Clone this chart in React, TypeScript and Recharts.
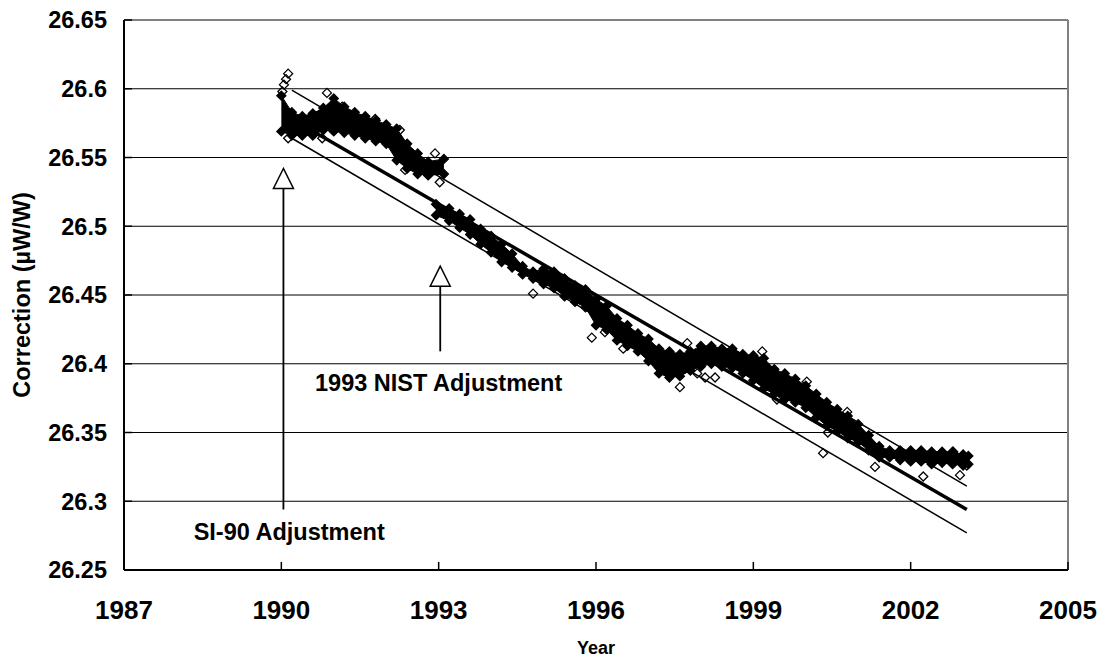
import React from "react"
import {
  ComposedChart,
  XAxis,
  YAxis,
  Area,
  Line,
  Scatter,
  ReferenceLine,
  ReferenceDot,
} from "recharts"

const font = "'Liberation Sans', Arial, sans-serif"

const yearTicks = [1987, 1990, 1993, 1996, 1999, 2002, 2005]
const correctionTicks = [26.25, 26.3, 26.35, 26.4, 26.45, 26.5, 26.55, 26.6, 26.65]
const gridValues = [26.3, 26.35, 26.4, 26.45, 26.5, 26.55, 26.6]

// readings before the 1993 NIST adjustment (upper / lower edge of the cloud)
const yearsA = [1990.0, 1990.2, 1990.4, 1990.6, 1990.8, 1991.0, 1991.2, 1991.4, 1991.6, 1991.8, 1992.0, 1992.2, 1992.4, 1992.6, 1992.8, 1993.1]
const upperA = [26.595, 26.583, 26.58, 26.582, 26.586, 26.593, 26.587, 26.583, 26.58, 26.577, 26.574, 26.571, 26.56, 26.553, 26.547, 26.549]
const lowerA = [26.569, 26.566, 26.566, 26.566, 26.57, 26.569, 26.568, 26.566, 26.564, 26.562, 26.56, 26.548, 26.542, 26.538, 26.537, 26.538]

// readings after the adjustment
const yearsB = [
  1992.95, 1993.2, 1993.4, 1993.6, 1993.8, 1994.0, 1994.2, 1994.4, 1994.6, 1994.8,
  1995.0, 1995.2, 1995.4, 1995.6, 1995.8, 1996.0, 1996.2, 1996.4, 1996.6, 1996.8,
  1997.0, 1997.2, 1997.4, 1997.6, 1997.8, 1998.0, 1998.2, 1998.4, 1998.6, 1998.8,
  1999.0, 1999.2, 1999.4, 1999.6, 1999.8, 2000.0, 2000.2, 2000.4, 2000.6, 2000.8,
  2001.0, 2001.2, 2001.4, 2001.6, 2001.8, 2002.0, 2002.2, 2002.4, 2002.6, 2002.8,
  2003.0, 2003.1,
]
const upperB = [
  26.516, 26.513, 26.509, 26.505, 26.498, 26.493, 26.487, 26.48, 26.471, 26.467,
  26.469, 26.467, 26.462, 26.457, 26.454, 26.447, 26.442, 26.433, 26.428, 26.422,
  26.418, 26.411, 26.409, 26.407, 26.409, 26.413, 26.413, 26.411, 26.411, 26.407,
  26.406, 26.404, 26.396, 26.393, 26.389, 26.384, 26.378, 26.372, 26.367, 26.362,
  26.356, 26.348, 26.34, 26.337, 26.337, 26.337, 26.337, 26.336, 26.336, 26.336,
  26.334, 26.333,
]
const lowerB = [
  26.508, 26.504, 26.499, 26.494, 26.487, 26.481, 26.474, 26.47, 26.465, 26.462,
  26.458, 26.455, 26.449, 26.445, 26.441, 26.428, 26.425, 26.417, 26.413, 26.409,
  26.402, 26.393, 26.39, 26.391, 26.395, 26.398, 26.4, 26.398, 26.397, 26.393,
  26.388, 26.382, 26.378, 26.374, 26.372, 26.368, 26.361, 26.355, 26.351, 26.346,
  26.343, 26.337, 26.332, 26.332, 26.33, 26.329, 26.329, 26.327, 26.328, 26.327,
  26.326, 26.327,
]

// isolated points standing out of the cloud
const outlierYears = [
  1990.02, 1990.05, 1990.09, 1990.13, 1990.13, 1990.78, 1990.87, 1991.16, 1991.79, 1992.26,
  1992.36, 1992.93, 1993.02, 1994.8, 1995.92, 1996.17, 1996.52, 1997.6, 1997.74, 1997.93,
  1998.08, 1998.27, 1999.17, 1999.45, 2000.02, 2000.33, 2000.42, 2000.79, 2001.32, 2002.24,
  2002.81, 2002.94, 2003.07,
]
const outlierValues = [
  26.598, 26.603, 26.607, 26.611, 26.564, 26.564, 26.597, 26.587, 26.578, 26.57,
  26.541, 26.553, 26.532, 26.451, 26.419, 26.423, 26.411, 26.383, 26.415, 26.393,
  26.39, 26.39, 26.409, 26.374, 26.387, 26.335, 26.35, 26.365, 26.325, 26.318,
  26.336, 26.319, 26.326,
]

// linear fit and its band
const fitYears = [1990.2, 2003.07]
const fitCenter = [26.578, 26.294]
const fitUpper = [26.599, 26.311]
const fitLower = [26.564, 26.277]

// adjustment arrows: foot of the shaft, foot of the head, tip
const arrowYears = [1990.04, 1993.03]
const arrowFoot = [26.294, 26.409]
const arrowNeck = [26.528, 26.4565]
const arrowTip = [26.542, 26.471]

const bandA = yearsA.map((year, i) => ({ year, band: [lowerA[i], upperA[i]] }))
const bandB = yearsB.map((year, i) => ({ year, band: [lowerB[i], upperB[i]] }))
const edgePoints = [
  ...yearsA.map((year, i) => ({ year, value: upperA[i] })),
  ...yearsA.map((year, i) => ({ year, value: lowerA[i] })),
  ...yearsB.map((year, i) => ({ year, value: upperB[i] })),
  ...yearsB.map((year, i) => ({ year, value: lowerB[i] })),
]
const outliers = outlierYears.map((year, i) => ({ year, value: outlierValues[i] }))
const fitData = fitYears.map((year, i) => ({
  year,
  center: fitCenter[i],
  upper: fitUpper[i],
  lower: fitLower[i],
}))
const shafts = arrowYears.map((year, i) => [
  { year, value: arrowFoot[i] },
  { year, value: arrowNeck[i] },
])
const heads = arrowYears.map((year, i) => ({ year, value: arrowTip[i] }))

const Diamond = (props: any) => {
  const { cx, cy, solid } = props
  const r = 4.5
  return (
    <polygon
      points={`${cx},${cy - r} ${cx + r},${cy} ${cx},${cy + r} ${cx - r},${cy}`}
      fill={solid ? "#000" : "none"}
      stroke="#000"
      strokeWidth={1.3}
    />
  )
}

const ArrowHead = (props: any) => {
  const { cx, cy } = props
  return (
    <polygon
      points={`${cx},${cy} ${cx - 10},${cy + 20} ${cx + 10},${cy + 20}`}
      fill="#fff"
      stroke="#000"
      strokeWidth={1.5}
    />
  )
}

const Note = (text: string) => (props: any) => (
  <text
    x={props.cx}
    y={props.cy}
    textAnchor="middle"
    fontFamily={font}
    fontWeight={700}
    fontSize={23.5}
    fill="#000"
  >
    {text}
  </text>
)

const YTitle = (props: any) => {
  const { x, y, height } = props.viewBox
  const cx = x + 22
  const cy = y + height / 2
  return (
    <text
      x={cx}
      y={cy}
      dy="0.36em"
      transform={`rotate(-90, ${cx}, ${cy})`}
      textAnchor="middle"
      fontFamily={font}
      fontWeight={700}
      fontSize={23.5}
      fill="#000"
    >
      Correction (µW/W)
    </text>
  )
}

const App = () => {
  return (
    <div style={{ position: "absolute", left: 0, top: 0, background: "#fff" }}>
      <ComposedChart
        width={1097}
        height={658}
        margin={{ top: 20, right: 29, bottom: 0, left: 0 }}
      >
        <XAxis
          type="number"
          dataKey="year"
          domain={[1987, 2005]}
          ticks={yearTicks}
          interval={0}
          allowDataOverflow
          height={88}
          axisLine={{ stroke: "#000", strokeWidth: 2 }}
          tickLine={{ stroke: "#000", strokeWidth: 1.5 }}
          tickSize={-8}
          tickMargin={39}
          tick={{ fill: "#000", fontSize: 26, fontWeight: 700, fontFamily: font }}
          label={{
            value: "Year",
            position: "insideBottom",
            offset: 4,
            fill: "#000",
            fontSize: 18,
            fontWeight: 700,
            fontFamily: font,
          }}
        />
        <YAxis
          type="number"
          domain={[26.25, 26.65]}
          ticks={correctionTicks}
          interval={0}
          allowDataOverflow
          width={124}
          axisLine={{ stroke: "#000", strokeWidth: 2 }}
          tickLine={{ stroke: "#000", strokeWidth: 1.5 }}
          tickSize={-8}
          tickMargin={25}
          tickFormatter={(v: number) => String(v)}
          tick={{ fill: "#000", fontSize: 23.5, fontWeight: 700, fontFamily: font }}
          label={(props: any) => <YTitle {...props} />}
        />

        {gridValues.map((v) => (
          <ReferenceLine key={v} y={v} stroke="#000" strokeWidth={1} />
        ))}
        <ReferenceLine y={26.65} stroke="#808080" strokeWidth={2} />
        <ReferenceLine x={2005} stroke="#808080" strokeWidth={2} />

        <Area
          data={bandA}
          dataKey="band"
          type="linear"
          stroke="#000"
          strokeWidth={1}
          fill="#000"
          fillOpacity={1}
          dot={false}
          activeDot={false}
          isAnimationActive={false}
        />
        <Area
          data={bandB}
          dataKey="band"
          type="linear"
          stroke="#000"
          strokeWidth={1}
          fill="#000"
          fillOpacity={1}
          dot={false}
          activeDot={false}
          isAnimationActive={false}
        />
        <Scatter
          data={edgePoints}
          dataKey="value"
          shape={(p: any) => <Diamond {...p} solid />}
          isAnimationActive={false}
        />
        <Scatter
          data={outliers}
          dataKey="value"
          shape={(p: any) => <Diamond {...p} />}
          isAnimationActive={false}
        />

        <Line data={fitData} dataKey="center" stroke="#000" strokeWidth={3.5} dot={false} isAnimationActive={false} />
        <Line data={fitData} dataKey="upper" stroke="#000" strokeWidth={1.5} dot={false} isAnimationActive={false} />
        <Line data={fitData} dataKey="lower" stroke="#000" strokeWidth={1.5} dot={false} isAnimationActive={false} />

        {shafts.map((s, i) => (
          <Line key={i} data={s} dataKey="value" stroke="#000" strokeWidth={1.8} dot={false} isAnimationActive={false} />
        ))}
        <Scatter
          data={heads}
          dataKey="value"
          shape={(p: any) => <ArrowHead {...p} />}
          isAnimationActive={false}
        />

        <ReferenceDot x={1990.15} y={26.272} shape={Note("SI-90 Adjustment")} />
        <ReferenceDot x={1993.0} y={26.3805} shape={Note("1993 NIST Adjustment")} />
      </ComposedChart>
    </div>
  )
}

export default App
